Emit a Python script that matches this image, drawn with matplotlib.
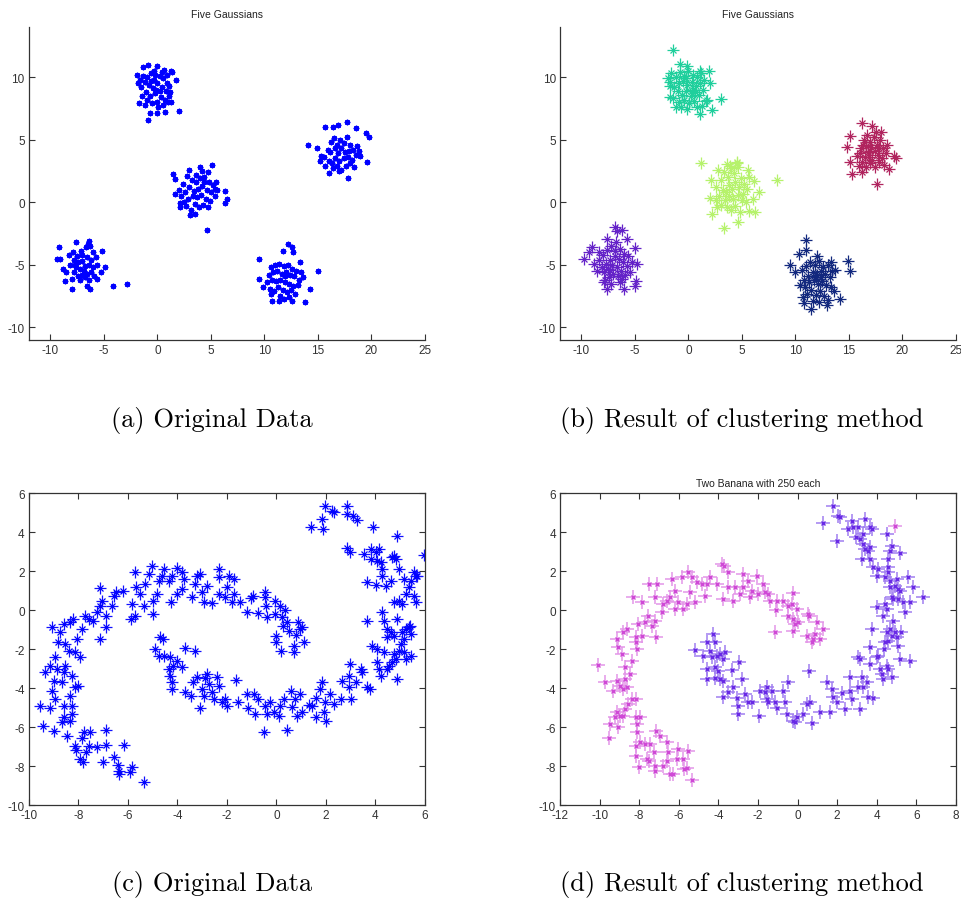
import matplotlib
matplotlib.use("Agg")
import matplotlib.pyplot as plt
import numpy as np

plt.rcParams['font.family'] = ['Liberation Sans', 'DejaVu Sans']
plt.rcParams['axes.unicode_minus'] = False

# ---- (a) five gaussians, original data ----
a1_x = [-1.9,-1.85,-1.7,-1.3,-0.9,0.0,1.3,1.7,2.0,-0.9,-0.7,-0.05,0.7,1.0,-1.45,-1.2,
        -1.0,-0.6,-0.3,0.2,0.5,0.9,1.1,0.8,0.4,0.0,-0.4,-0.8,-1.2,-1.5,-1.1,-0.7,-0.2,0.3,0.7,1.1,
        1.3,0.5,0.0,-0.5,-1.0,-0.3,0.6,-0.1,0.2,-0.6,0.9,1.2,-1.3,0.1,-0.2,0.4,1.4,-1.6]
a1_y = [10.2,9.5,7.9,10.8,11.0,10.9,10.5,9.8,7.3,6.6,7.1,7.1,7.2,8.0,8.5,7.8,
        10.0,10.3,9.8,10.1,9.9,10.2,9.3,8.9,9.2,9.5,9.1,9.4,9.6,9.2,8.8,8.5,8.7,8.4,8.2,8.5,
        8.0,7.8,8.0,7.9,8.2,10.5,10.6,9.0,8.9,9.7,9.5,8.8,10.1,7.6,10.2,10.4,10.4,9.8]
a2_x = [1.5,1.67,4.0,4.7,5.1,6.3,6.5,6.3,4.6,3.07,3.5,2.13,2.13,1.67,5.5,5.4,
        2.4,2.8,3.2,3.6,4.0,4.4,4.8,5.2,5.0,4.6,4.2,3.8,3.4,3.0,2.6,2.2,2.5,2.9,3.3,3.7,4.1,4.5,
        4.9,5.4,4.3,3.9,3.5,3.1,2.7,4.7,3.6,4.4,3.0,4.2,5.6,2.0]
a2_y = [2.27,1.87,2.8,2.45,3.0,0.9,0.27,-0.05,-2.2,-1.0,-0.93,-0.4,-0.05,0.67,1.65,1.07,
        1.5,2.1,1.8,2.2,1.9,2.0,1.6,1.4,0.8,1.0,1.3,1.1,0.9,1.2,0.8,0.5,0.0,0.3,0.5,0.4,0.6,0.3,
        0.1,0.5,-0.2,-0.4,-0.1,-0.6,-0.3,-0.4,1.6,1.6,2.6,2.5,1.0,1.0]
a3_x = [-9.2,-9.4,-9.1,-8.8,-8.6,-8.0,-7.6,-6.4,-6.3,-6.6,-5.2,-4.9,-5.3,-5.6,-4.1,-2.8,
        -8.3,-7.9,-7.5,-7.1,-6.7,-6.3,-6.0,-5.7,-6.2,-6.6,-7.0,-7.4,-7.8,-8.2,-7.6,-7.2,-6.8,-6.4,
        -6.0,-5.6,-6.2,-6.6,-7.0,-7.4,-7.8,-8.0,-7.2,-6.8,-6.4,-5.9,-8.5,-7.0,-6.5,-7.7,-6.9]
a3_y = [-3.6,-4.5,-4.5,-5.3,-6.3,-6.9,-3.2,-3.1,-6.9,-6.7,-3.9,-5.2,-5.6,-6.1,-6.7,-6.5,
        -4.2,-4.0,-4.3,-3.9,-3.6,-3.5,-4.0,-4.4,-4.6,-4.4,-4.7,-4.8,-4.6,-5.0,-5.2,-5.3,-5.1,-5.0,
        -5.2,-5.0,-5.6,-5.7,-5.8,-5.9,-5.6,-6.1,-6.2,-6.0,-6.2,-5.9,-5.6,-4.2,-3.3,-5.0,-5.5]
a4_x = [9.45,9.5,9.9,10.6,10.7,11.4,11.8,12.6,13.8,14.3,15.05,12.2,12.55,12.7,11.7,13.3,
        10.6,11.0,11.4,11.8,12.2,12.6,13.0,13.4,10.4,10.8,11.2,11.6,12.0,12.4,12.8,13.2,10.2,10.7,
        11.1,11.5,11.9,12.3,12.7,13.1,10.5,10.9,11.3,11.7,12.1,12.5,12.9,11.5,12.3,13.6,11.9]
a4_y = [-4.5,-6.1,-6.8,-7.3,-7.9,-7.9,-7.7,-7.9,-8.0,-6.9,-5.5,-3.3,-3.6,-4.0,-3.9,-4.8,
        -5.2,-5.0,-4.9,-5.1,-5.0,-5.3,-5.5,-5.6,-5.8,-5.6,-5.5,-5.7,-5.6,-5.8,-5.9,-6.2,-6.4,-6.2,
        -6.3,-6.2,-6.4,-6.5,-6.7,-6.6,-6.9,-7.1,-6.8,-7.0,-7.2,-7.0,-7.3,-7.5,-7.6,-6.0,-5.9]
a5_x = [14.1,15.7,16.4,16.9,17.7,19.5,19.8,19.55,17.85,16.0,18.6,14.9,15.2,18.8,18.9,
        15.6,15.9,16.2,16.5,16.8,17.1,17.4,17.7,18.0,18.3,18.6,18.2,17.8,17.5,17.2,16.9,16.6,16.3,
        16.0,15.7,16.4,16.8,17.2,17.6,18.0,18.4,17.0,16.1,17.9,16.6,17.4,15.3,18.7,17.0]
a5_y = [4.6,6.0,6.05,6.2,6.4,5.55,5.2,3.2,1.9,2.3,5.9,4.3,3.3,4.1,3.7,
        3.6,4.2,4.8,5.1,4.6,5.0,4.7,5.2,4.6,4.2,3.8,3.4,3.6,4.0,4.3,3.9,3.5,3.1,
        3.3,2.9,2.7,2.9,2.6,2.9,3.1,2.8,3.3,4.0,4.1,4.3,3.5,3.7,4.5,2.5]

# ---- (b) five gaussians, clustered ----
b1_x = [-1.47,-1.9,-1.7,-1.7,-1.2,-0.75,-0.13,1.1,1.9,2.0,1.74,3.0,2.2,1.27,1.1,-0.13,0.34,
        -1.6,-1.2,-0.8,-0.4,0.0,0.4,0.8,1.2,1.5,1.1,0.7,0.3,-0.1,-0.5,-0.9,-1.3,-1.7,-1.0,-0.6,
        -0.2,0.2,0.6,1.0,1.4,-1.4,-0.9,-0.4,0.1,0.5,-0.7,0.8,1.6,-0.2,0.4]
b1_y = [12.2,9.9,9.3,8.4,7.6,11.07,10.9,10.5,10.5,9.5,8.2,8.27,7.4,7.7,7.07,7.47,8.9,
        10.3,10.0,10.4,10.1,10.5,10.2,10.0,10.3,9.8,9.5,9.3,9.6,9.4,9.7,9.5,9.2,9.6,8.9,8.6,
        8.9,8.5,8.8,8.6,9.0,8.3,8.0,8.2,7.9,8.1,7.6,7.6,8.1,9.9,9.0]
b2_x = [1.18,2.1,2.05,2.2,3.3,4.64,3.6,4.54,5.6,6.1,6.6,6.0,6.26,5.7,8.28,2.7,
        2.6,3.0,3.3,3.7,4.0,4.3,4.6,4.9,5.2,5.5,5.1,4.7,4.4,4.1,3.8,3.5,3.2,2.9,2.6,3.0,3.4,
        3.8,4.2,4.6,5.0,5.4,4.4,4.0,3.6,4.8,3.9,4.5,2.8,5.7]
b2_y = [3.12,1.8,0.32,-0.93,-2.03,-1.55,3.07,3.2,2.6,1.73,0.8,0.27,-0.8,-0.67,1.8,-0.4,
        1.2,1.8,2.4,2.0,2.7,2.3,2.8,1.9,1.5,1.1,0.7,1.2,1.6,1.1,1.4,0.8,1.0,0.5,0.2,-0.2,0.2,
        0.5,0.3,0.6,0.2,0.0,-0.3,-0.6,-0.4,-0.8,2.9,3.1,2.6,2.0]
b3_x = [-9.8,-9.3,-9.0,-6.9,-6.7,-6.2,-5.7,-5.0,-4.8,-4.9,-5.0,-6.05,-7.6,-8.4,-7.6,-7.9,
        -8.4,-8.0,-7.6,-7.2,-6.8,-6.4,-6.0,-5.6,-5.3,-5.7,-6.1,-6.5,-6.9,-7.3,-7.7,-8.1,-8.5,
        -7.9,-7.5,-7.1,-6.7,-6.3,-5.9,-5.5,-6.2,-6.6,-7.0,-7.4,-7.8,-7.2,-6.4,-8.8,-6.9,-7.3]
b3_y = [-4.5,-3.95,-3.6,-1.95,-2.3,-2.2,-2.9,-3.65,-4.9,-6.3,-6.7,-6.9,-6.9,-4.0,-2.9,-6.4,
        -4.6,-4.2,-3.8,-3.5,-3.2,-3.7,-4.1,-4.3,-4.8,-5.1,-4.8,-4.5,-4.3,-4.6,-4.9,-5.2,-5.5,
        -5.6,-5.3,-5.0,-5.2,-5.5,-5.8,-5.6,-6.1,-5.9,-5.7,-6.0,-6.2,-6.5,-6.4,-4.9,-3.9,-5.4]
b4_x = [11.0,11.0,10.3,9.5,10.0,14.9,15.1,14.2,13.6,12.95,11.5,10.8,12.0,13.3,13.7,
        10.6,11.0,11.4,11.8,12.2,12.6,13.0,13.4,13.2,12.8,12.4,12.0,11.6,11.2,10.8,10.4,10.9,
        11.3,11.7,12.1,12.5,12.9,13.3,11.1,11.5,11.9,12.3,12.7,11.6,12.2,13.0,10.7,11.9,12.4]
b4_y = [-3.0,-3.8,-4.1,-5.0,-5.6,-4.7,-5.5,-7.7,-7.05,-8.2,-8.55,-8.05,-4.3,-4.8,-5.4,
        -5.4,-5.1,-4.8,-5.0,-4.7,-5.2,-5.0,-5.5,-6.0,-5.7,-5.5,-5.8,-5.6,-5.9,-6.2,-6.6,-6.8,
        -6.4,-6.2,-6.5,-6.3,-6.6,-6.8,-7.3,-7.0,-7.4,-7.1,-7.5,-7.9,-8.0,-7.8,-7.6,-6.0,-6.0]
b5_x = [15.07,16.2,17.15,18.0,19.2,19.4,15.3,16.2,17.6,18.7,14.8,15.1,
        15.8,16.1,16.4,16.7,17.0,17.3,17.6,17.9,18.2,18.5,18.1,17.7,17.4,17.1,16.8,16.5,16.2,
        15.9,16.6,17.0,17.4,17.8,18.3,16.9,17.2,16.3,17.5,16.0,18.6,17.0,16.6,17.8]
b5_y = [5.28,6.3,6.1,5.6,3.73,3.5,2.27,2.45,1.47,2.67,4.4,3.25,
        3.7,4.3,5.0,5.4,4.8,5.2,4.6,5.0,4.3,3.9,3.5,3.8,4.1,4.4,4.0,3.6,3.2,
        2.9,2.8,3.1,2.8,3.2,3.0,3.6,3.4,4.6,5.6,3.9,4.6,4.1,4.5,4.3]

# ---- (c) two bananas, original data ----
c1_x = [-5.37,-5.9,-6.36,-6.36,-6.42,-5.84,-6.58,-6.15,-6.88,-6.88,-7.02,-7.26,-7.56,-7.7,-7.77,
        -7.53,-7.83,-7.94,-7.87,-8.1,-8.14,-8.47,-9.0,-9.42,-9.55,-9.15,-8.68,-8.6,-8.34,-8.27,
        -8.6,-8.27,-8.95,-8.34,-9.08,-8.14,-8.0,-9.0,-8.68,-9.35,-8.6,-8.27,-9.15,-8.88,-8.54,
        -8.95,-7.94,-8.81,-8.54,-8.4,-8.14,-8.07,-8.74,-9.08,-8.6,-8.34,-8.23,-7.87,-7.73,-7.56,
        -7.4,-7.26,-7.13,-7.13,-6.88,-6.88,-7.06,-7.13,-6.65,-6.56,-6.48,-6.18,-5.87,-5.71,-5.84,
        -5.71,-5.67,-5.37,-5.51,-5.3,-5.14,-5.03,-4.99,-4.99,-4.83,-4.76,-4.63,-4.53,-4.36,-4.25,
        -4.22,-4.02,-4.02,-3.82,-3.82,-3.75,-3.41,-3.28,-3.21,-3.1,-3.01,-2.94,-2.81,-2.6,-2.33,
        -2.33,-2.33,-2.06,-1.99,-1.93,-1.73,-1.73,-1.79,-1.48,-1.19,-1.03,-0.94,-0.74,-0.45,-0.45,
        -0.42,-0.38,-0.04,-0.07,0.0,0.0,0.16,0.23,0.27,0.2,0.36,0.43,0.5,0.7,0.73,0.81,0.88,1.04,
        1.13,0.97]
c1_y = [-8.84,-8.3,-8.24,-8.4,-7.95,-8.07,-7.55,-6.92,-6.9,-6.15,-7.78,-7.04,-6.96,-7.26,-6.27,
        -6.27,-7.78,-7.64,-6.58,-7.2,-6.96,-6.44,-6.19,-5.93,-4.9,-5.0,-5.76,-5.5,-5.67,-5.33,
        -4.9,-4.9,-4.56,-4.39,-4.14,-3.97,-3.88,-3.62,-3.71,-3.2,-3.2,-3.37,-2.85,-3.03,-2.86,
        -2.43,-2.43,-1.66,-1.74,-2.08,-2.17,-1.49,-1.15,-0.89,-0.72,-0.63,-0.46,-0.97,-0.29,-0.46,
        -0.55,-0.12,0.22,-1.49,-0.89,-0.29,0.48,1.11,0.22,0.74,0.91,0.96,-0.46,-0.29,0.31,
        1.97,1.16,0.22,0.82,1.33,1.85,2.27,0.48,-0.2,0.82,1.5,1.76,2.1,1.5,0.39,
        1.76,2.14,0.82,1.08,1.93,1.59,0.65,1.33,1.76,1.85,0.91,0.39,1.25,0.36,2.1,
        1.68,0.82,0.65,1.16,1.76,1.59,0.82,0.39,0.39,-0.12,0.6,0.74,-0.15,0.94,0.65,
        0.22,-0.38,0.48,-0.2,-1.32,-1.66,0.22,-0.38,-0.8,-2.08,0.0,-0.63,-1.06,-1.83,-2.14,-1.28,-0.63,-0.89,
        -1.66,-0.97]
c2_x = [-4.9,-4.72,-4.59,-4.76,-4.56,-4.29,-3.68,-3.28,-4.36,-4.16,-4.02,-3.82,-4.32,-4.22,-4.22,
        -3.68,-3.45,-3.37,-3.21,-3.1,-3.01,-2.87,-2.81,-2.94,-2.74,-2.6,-2.54,-2.4,-2.33,-2.2,
        -2.06,-1.99,-1.62,-1.55,-1.19,-1.16,-0.92,-0.85,-0.76,-0.49,-0.45,-0.38,-0.24,-0.11,0.09,
        0.16,0.3,0.43,0.57,0.63,0.77,0.84,0.94,1.04,1.31,1.44,1.58,1.58,1.78,1.85,1.92,1.98,2.02,
        2.16,2.32,2.59,2.66,2.93,2.93,2.97,3.02,3.2,3.4,3.47,3.67,3.78,3.87,4.08,4.08,4.15,4.21,
        4.35,4.48,4.55,4.68,4.75,4.82,4.89,4.95,5.02,5.09,5.16,5.22,5.36,5.42,5.39,5.16,5.22,5.45,
        3.67,4.28,4.35,4.45,4.48,4.62,4.75,4.89,4.75,4.95,5.09,5.22,5.36,5.56,5.63,5.42,5.56,5.63,
        5.7,5.16,4.95,4.89,4.75,4.82,4.68,4.62,4.41,4.28,4.28,4.21,4.15,4.01,3.81,3.81,4.08,3.54,
        3.91,4.01,3.67,5.97,2.86,2.97,2.86,2.86,3.1,3.24,2.32,2.25,1.98,1.85,1.89,1.38]
c2_y = [-2.0,-1.4,-1.49,-2.38,-2.34,-2.43,-1.97,-2.08,-3.03,-2.85,-2.6,-2.94,-3.37,-3.71,-4.05,
        -4.19,-4.39,-3.71,-3.45,-5.03,-4.05,-3.5,-3.28,-4.39,-3.8,-4.22,-4.56,-3.45,-3.88,-4.74,
        -4.56,-4.9,-3.57,-4.74,-4.31,-5.0,-4.31,-5.33,-4.56,-6.24,-4.9,-5.33,-4.74,-5.21,-5.42,
        -4.9,-4.56,-6.14,-4.14,-4.99,-4.56,-5.42,-4.31,-5.25,-4.87,-4.9,-4.53,-5.5,-4.05,-3.68,-5.25,-4.74,-5.67,
        -4.31,-4.82,-4.56,-3.62,-3.37,-3.97,-2.77,-4.56,-3.71,-3.03,-3.2,-3.97,-4.05,-1.83,-2.0,-2.68,-3.03,-3.37,
        -2.17,-3.03,-2.85,-2.68,-2.26,-2.51,-3.54,-2.08,-1.74,-1.15,-1.49,-0.97,-0.89,-1.23,-0.8,-2.17,-2.51,-2.34,
        -0.55,-0.12,-0.55,-0.97,-1.4,-1.15,-1.32,-0.46,0.39,0.48,0.31,0.82,1.16,0.74,0.39,1.5,1.93,1.76,
        1.76,1.59,2.1,3.8,2.79,2.62,2.7,1.5,1.25,2.1,1.76,2.45,3.13,2.96,3.13,2.62,2.53,2.87,
        4.24,1.28,1.45,2.82,3.2,2.96,5.35,4.92,4.84,4.63,5.04,5.1,5.35,4.67,4.15,4.24]

# ---- (d) two bananas, clustered ----
d1_x = [-5.32,-5.6,-5.52,-5.77,-5.74,-6.06,-6.11,-6.28,-6.44,-6.61,-6.56,-6.61,-6.81,-6.95,-7.15,
        -7.2,-7.2,-7.25,-7.49,-7.62,-7.45,-7.7,-7.96,-7.99,-8.16,-8.16,-8.13,-8.09,-7.96,-8.16,
        -9.51,-9.05,-9.47,-9.22,-8.97,-8.8,-9.1,-8.72,-8.55,-8.38,-8.16,-9.73,-9.31,-9.14,-8.97,
        -8.8,-8.63,-8.72,-8.46,-10.06,-8.72,-8.38,-8.89,-9.05,-9.14,-8.8,-8.63,-8.16,-8.16,-8.13,
        -8.04,-7.87,-7.7,-7.54,-7.37,-7.2,-7.15,-7.87,-8.3,-7.49,-7.12,-7.2,-6.87,-6.78,-6.61,
        -6.44,-6.19,-6.19,-6.02,-5.77,-6.36,-5.86,-5.52,-5.35,-5.43,-5.18,-5.6,-5.1,-4.85,-4.68,
        -4.59,-4.42,-4.09,-3.83,-3.7,-3.5,-3.75,-3.5,-3.25,-3.16,-2.91,-2.74,-2.74,-2.49,-2.4,
        -2.32,-2.07,-1.98,-1.73,-1.65,-1.48,-1.39,-1.06,-1.09,-1.14,-0.72,-0.47,-0.3,-0.25,-0.47,
        -0.22,-0.05,-0.13,0.03,-0.22,0.46,0.54,0.59,0.71,0.79,0.88,0.99,1.13,1.27,4.92]
d1_y = [-8.7,-8.12,-7.21,-7.64,-8.15,-7.13,-7.64,-8.41,-8.41,-7.73,-7.3,-6.79,-7.98,-6.44,-6.19,
        -7.98,-8.24,-7.3,-7.73,-7.64,-6.87,-6.87,-6.79,-8.07,-7.47,-6.96,-6.27,-5.85,-5.5,-5.5,
        -6.58,-6.02,-5.85,-5.5,-5.42,-5.42,-5.25,-5.08,-4.82,-4.56,-4.56,-3.71,-4.14,-3.62,-3.88,
        -4.05,-3.97,-3.54,-3.28,-2.82,-2.94,-2.6,-2.26,-1.91,-1.49,-1.15,-0.97,-1.4,-1.66,-2.0,
        -0.72,-1.32,-0.63,-0.29,-0.8,-0.55,-1.4,0.39,0.65,1.33,1.33,0.65,-0.12,0.31,0.48,
        0.68,0.99,0.05,0.39,0.05,1.59,1.71,1.93,1.68,0.91,0.39,0.31,1.42,1.33,0.74,
        1.33,1.68,1.33,2.36,2.27,1.93,0.56,1.16,0.48,1.16,0.82,1.85,1.16,1.5,0.65,
        0.99,1.76,0.82,1.33,0.91,0.82,0.48,0.48,0.0,-1.11,0.48,0.22,0.31,0.87,-0.29,
        -0.46,0.05,-0.72,-0.63,-1.06,-1.32,-0.2,-0.29,-1.66,-1.49,-1.23,-0.63,-1.49,-0.97,4.29]
d2_x = [-5.18,-4.59,-4.26,-4.42,-4.17,-4.76,-4.34,-4.09,-3.92,-3.67,-3.75,-4.59,-4.17,-4.0,-3.33,
        -2.94,-4.59,-4.17,-3.92,-3.75,-3.5,-3.75,-3.25,-2.83,-3.08,-3.0,-3.0,-2.66,-2.49,-2.32,
        -1.93,-1.9,-1.65,-1.56,-1.53,-1.51,-1.31,-1.14,-1.06,-0.72,-0.64,-0.47,-0.55,-0.22,-0.13,
        -0.05,0.29,0.46,0.63,0.59,0.71,1.13,1.47,1.64,1.72,1.81,1.97,2.22,2.39,2.65,2.65,2.73,
        3.07,3.15,3.07,3.15,3.24,3.32,3.49,3.57,3.66,3.66,3.74,3.83,3.99,4.08,4.16,4.25,4.33,4.36,
        4.41,4.5,4.58,4.75,3.99,4.33,4.41,4.5,4.5,4.58,4.67,4.75,4.84,4.92,5.0,5.09,5.25,5.17,
        5.68,5.34,5.43,5.68,6.35,5.85,5.6,5.0,4.92,4.67,4.75,5.09,5.17,5.09,4.84,4.67,4.58,4.41,
        3.99,4.08,4.58,4.58,4.67,4.75,5.17,4.5,3.83,3.66,3.57,3.66,3.4,3.32,3.24,3.15,3.32,3.66,
        3.74,3.4,3.07,2.82,2.57,2.95,2.73,2.14,2.06,1.81,1.97,1.27]
d2_y = [-2.05,-1.66,-1.23,-2.08,-1.66,-2.34,-2.43,-2.34,-2.26,-2.17,-2.51,-3.03,-2.94,-3.11,-3.08,
        -2.65,-3.54,-3.5,-3.54,-3.62,-4.19,-4.48,-3.97,-3.54,-4.53,-4.9,-5.33,-4.31,-4.74,-4.74,
        -5.42,-4.14,-4.22,-4.56,-3.97,-4.74,-4.14,-4.74,-5.0,-4.14,-4.74,-3.68,-5.33,-5.67,-5.76,
        -5.5,-5.33,-4.82,-4.74,-3.11,-5.8,-5.25,-3.71,-5.25,-4.05,-4.48,-4.74,-4.26,-5.08,-3.45,-4.14,-4.56,
        -2.43,-2.51,-3.97,-5.08,-3.45,-3.97,-3.71,-4.48,-2.77,-1.91,-0.97,-4.53,-2.43,-2.34,-3.03,-3.28,-3.54,-2.0,
        -1.66,-2.85,-3.03,-3.45,0.14,-0.29,0.31,0.05,-1.15,-1.57,-0.97,-1.32,-0.55,-1.15,-1.4,-1.83,-1.15,-2.51,
        -2.6,0.39,-0.12,0.39,0.65,1.16,1.71,1.59,1.25,1.16,0.65,1.08,0.99,0.56,0.56,1.5,1.93,1.68,
        1.76,2.1,2.19,2.62,3.04,3.3,2.92,3.9,2.19,2.62,3.04,3.21,3.13,3.38,2.62,3.64,3.9,4.24,
        4.15,4.67,4.24,4.24,4.15,3.73,4.58,4.75,4.84,5.35,3.56,4.46]

fig = plt.figure(figsize=(9.62, 9.04), dpi=100)

ax_a = fig.add_axes([0.0301, 0.6228, 0.4116, 0.3462])
ax_b = fig.add_axes([0.5821, 0.6228, 0.4116, 0.3462])
ax_c = fig.add_axes([0.0301, 0.1084, 0.4116, 0.3451])
ax_d = fig.add_axes([0.5821, 0.1084, 0.4116, 0.3451])

star = (8, 2, 0)

# (a)
for xs, ys in [(a1_x, a1_y), (a2_x, a2_y), (a3_x, a3_y), (a4_x, a4_y), (a5_x, a5_y)]:
    ax_a.plot(xs, ys, linestyle='none', marker=star, markersize=4, mew=1.0, color='#0000ff')

# (b)
b_colors = ['#1fcf9c', '#b6f26c', '#6422c8', '#12287e', '#b0245e']
for (xs, ys), c in zip([(b1_x, b1_y), (b2_x, b2_y), (b3_x, b3_y), (b4_x, b4_y), (b5_x, b5_y)], b_colors):
    ax_b.plot(xs, ys, linestyle='none', marker='+', markersize=8.5, mew=0.9, color=c)
    ax_b.plot(xs, ys, linestyle='none', marker='x', markersize=4, mew=0.9, color=c)

for ax in (ax_a, ax_b):
    ax.set_xlim(-12, 25)
    ax.set_ylim(-11, 14)
    ax.set_xticks([-10, -5, 0, 5, 10, 15, 20, 25])
    ax.set_yticks([-10, -5, 0, 5, 10])
    ax.spines['top'].set_visible(False)
    ax.spines['right'].set_visible(False)
    ax.set_title('Five Gaussians', fontsize=7.5, pad=7, color='#222222')

# (c)
for xs, ys in [(c1_x, c1_y), (c2_x, c2_y)]:
    ax_c.plot(xs, ys, linestyle='none', marker='+', markersize=8, mew=0.9, color='#1010ff')
    ax_c.plot(xs, ys, linestyle='none', marker='x', markersize=4, mew=0.9, color='#0000ff')
ax_c.set_xlim(-10, 6)
ax_c.set_ylim(-10, 6)
ax_c.set_xticks(np.arange(-10, 7, 2))
ax_c.set_yticks(np.arange(-10, 7, 2))

# (d)
ax_d.plot(d1_x, d1_y, linestyle='none', marker='+', markersize=10.5, mew=1.1, color='#e396e8')
ax_d.plot(d1_x, d1_y, linestyle='none', marker='x', markersize=3.5, mew=1.0, color='#cf48d6')
ax_d.plot(d2_x, d2_y, linestyle='none', marker='+', markersize=10.5, mew=1.1, color='#a07ff0')
ax_d.plot(d2_x, d2_y, linestyle='none', marker='x', markersize=3.5, mew=1.0, color='#6828e6')
ax_d.set_xlim(-12, 8)
ax_d.set_ylim(-10, 6)
ax_d.set_xticks(np.arange(-12, 9, 2))
ax_d.set_yticks(np.arange(-10, 7, 2))
ax_d.set_title('Two Banana with 250 each', fontsize=7.5, pad=5, color='#222222')

for ax in (ax_c, ax_d):
    ax.tick_params(top=True, right=True)

for ax in (ax_a, ax_b, ax_c, ax_d):
    ax.tick_params(direction='in', length=4, width=0.8, labelsize=8.5, pad=3, colors='#333333')
    for s in ax.spines.values():
        s.set_color('#333333')
        s.set_linewidth(0.9)

cap = dict(fontsize=19, family='cmr10', ha='center', va='center')
fig.text(212 / 962, 1 - 421 / 904, '(a) Original Data', **cap)
fig.text(742 / 962, 1 - 421 / 904, '(b) Result of clustering method', **cap)
fig.text(212 / 962, 1 - 885 / 904, '(c) Original Data', **cap)
fig.text(742 / 962, 1 - 885 / 904, '(d) Result of clustering method', **cap)

fig.savefig('out.png', dpi=100)
